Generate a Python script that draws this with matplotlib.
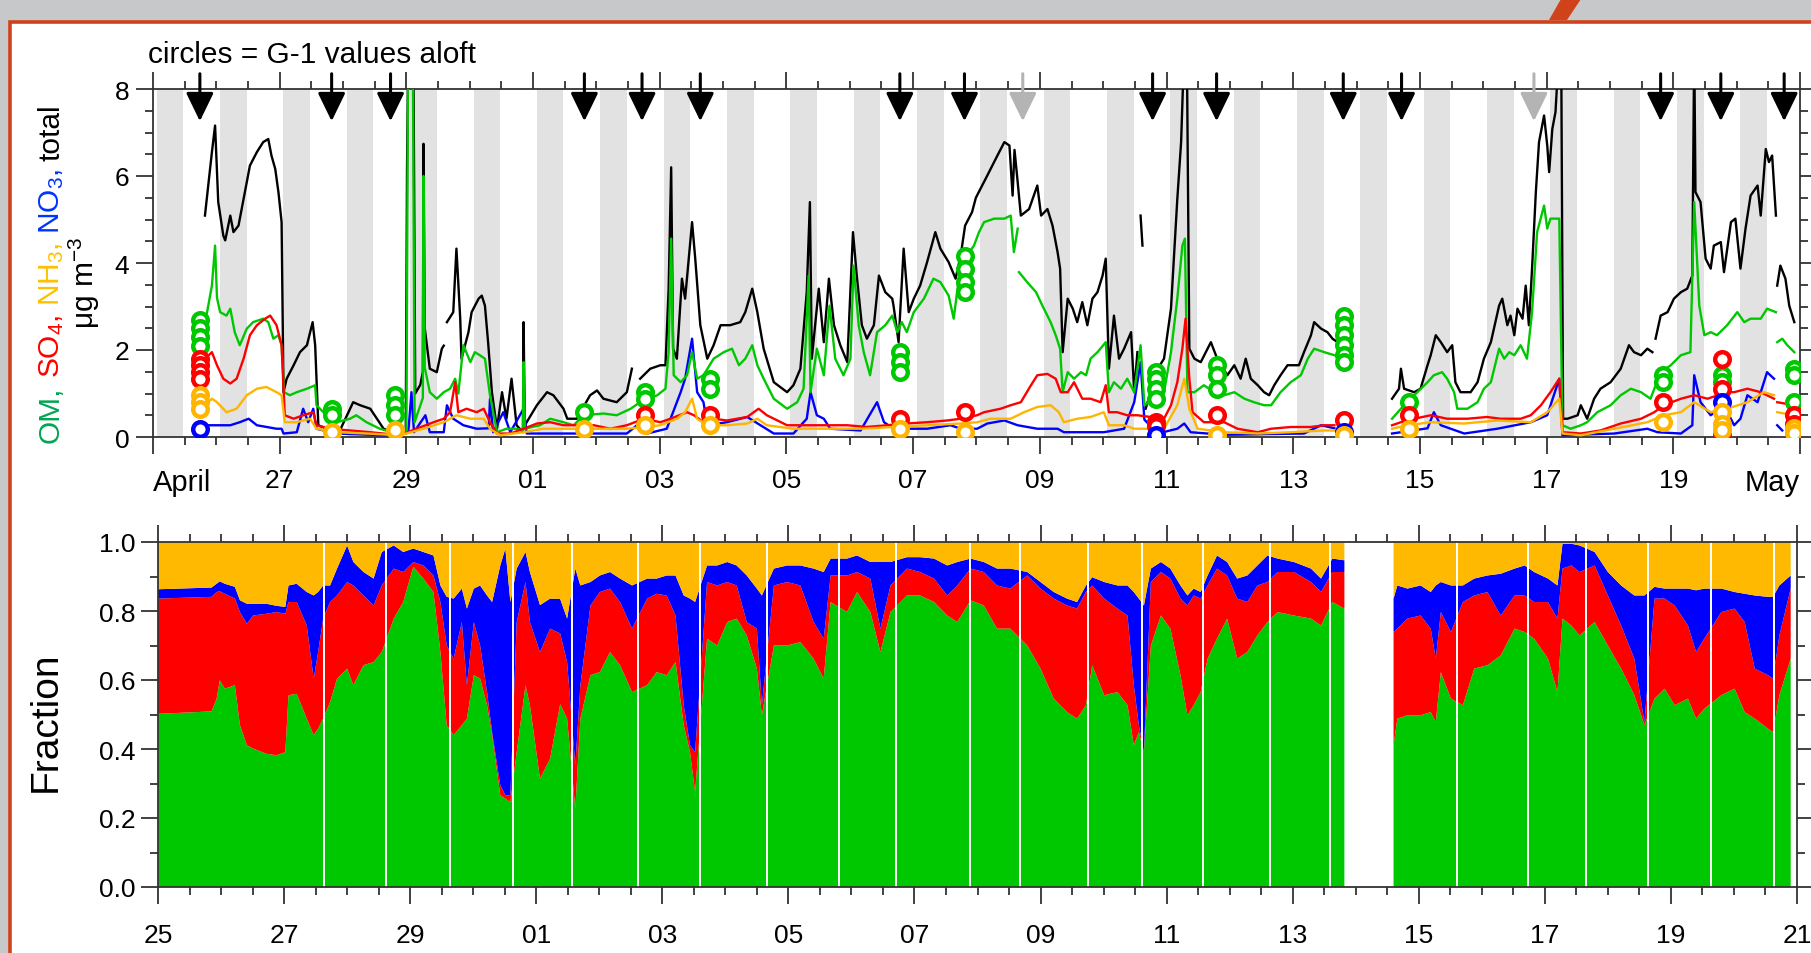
import numpy as np
import matplotlib
matplotlib.use('Agg')
import matplotlib.pyplot as plt
from matplotlib.patches import Rectangle, Polygon
from matplotlib.transforms import IdentityTransform
from matplotlib.ticker import MultipleLocator, FixedLocator

plt.rcParams['font.family'] = ['Liberation Sans', 'DejaVu Sans']
plt.rcParams['mathtext.fontset'] = 'custom'
plt.rcParams['mathtext.rm'] = 'Liberation Sans'
plt.rcParams['mathtext.it'] = 'Liberation Sans:italic'
plt.rcParams['mathtext.bf'] = 'Liberation Sans:bold'

nan = np.nan
# ---------------- data (day numbers: 25 = 25 April, 31 = 1 May, 51 = 21 May) ----------------
total_pts = [
 (25.82,5.09),(25.93,6.55),(25.98,7.16),(26.03,5.40),(26.11,4.63),(26.14,4.52),(26.22,5.09),(26.27,4.71),
 (26.35,4.86),(26.43,5.47),(26.53,6.24),(26.64,6.55),(26.74,6.78),(26.82,6.85),(26.87,6.47),(26.93,6.16),
 (26.98,5.63),(27.03,4.94),(27.06,1.03),(27.11,1.34),(27.22,1.65),(27.32,1.95),(27.43,2.11),(27.52,2.64),
 (27.56,2.11),(27.61,0.27),(27.74,0.19),(27.95,0.15),(28.16,0.80),(28.27,0.73),(28.43,0.65),(28.64,0.19),
 (28.85,0.08),(28.99,0.08),(29.01,6.16),(29.03,9.0),(29.11,9.0),(29.14,1.00),(29.22,1.20),(29.26,1.50),
 (29.27,6.74),(29.29,2.50),(29.37,1.57),(29.48,1.49),(29.56,2.03),(29.59,2.10),(29.62,nan),(29.64,2.64),
 (29.74,2.87),(29.79,4.33),(29.85,2.72),(29.87,1.80),(29.98,2.41),(30.03,2.87),(30.14,3.18),(30.19,3.25),
 (30.24,3.02),(30.29,2.18),(30.35,1.03),(30.43,0.19),(30.51,1.03),(30.58,0.42),(30.66,1.34),(30.74,0.27),
 (30.84,0.11),(30.85,2.64),(30.87,0.27),(31.06,0.73),(31.22,1.03),(31.32,0.96),(31.48,0.65),(31.54,0.42),
 (31.69,0.42),(31.90,0.96),(32.01,1.07),(32.11,0.88),(32.32,0.80),(32.48,1.03),(32.56,1.57),(32.60,nan),
 (32.69,1.34),(32.85,1.57),(33.01,1.65),(33.09,1.65),(33.14,3.41),(33.18,6.20),(33.21,2.03),(33.27,1.80),
 (33.35,3.64),(33.40,3.18),(33.51,4.94),(33.56,4.10),(33.64,2.57),(33.75,1.80),(33.85,2.11),(33.96,2.57),
 (34.11,2.57),(34.27,2.64),(34.35,2.87),(34.46,3.41),(34.54,2.87),(34.64,2.03),(34.80,1.26),(35.01,1.03),
 (35.11,1.19),(35.22,1.57),(35.32,3.33),(35.37,5.40),(35.40,1.80),(35.51,3.41),(35.59,2.18),(35.67,3.64),
 (35.75,2.57),(35.85,2.11),(35.96,1.72),(36.05,4.71),(36.11,3.71),(36.19,2.57),(36.27,2.26),(36.38,2.57),
 (36.46,3.71),(36.56,3.33),(36.67,3.18),(36.69,3.02),(36.77,2.18),(36.85,4.33),(36.93,2.87),(37.01,3.18),
 (37.11,3.48),(37.22,4.02),(37.35,4.71),(37.43,4.33),(37.56,4.02),(37.67,3.64),(37.75,4.17),(37.82,4.86),
 (37.93,5.17),(37.99,5.50),(38.17,6.01),(38.33,6.47),(38.44,6.78),(38.52,6.70),(38.57,5.55),(38.60,6.60),
 (38.65,5.86),(38.70,5.09),(38.83,5.24),(38.96,5.78),(39.02,5.09),(39.12,5.24),(39.20,4.86),(39.28,4.25),
 (39.32,3.87),(39.36,1.95),(39.44,3.18),(39.52,2.95),(39.59,2.64),(39.67,3.10),(39.75,2.57),(39.83,3.18),
 (39.91,3.33),(39.99,3.71),(40.04,4.10),(40.09,1.57),(40.17,2.79),(40.25,1.80),(40.33,2.03),(40.44,2.41),
 (40.49,1.03),(40.54,1.95),(40.57,nan),(40.59,5.09),(40.62,4.40),(40.65,nan),(40.67,0.65),(40.86,1.57),
 (40.96,1.80),(41.07,2.95),(41.17,5.47),(41.23,6.78),(41.28,9.0),(41.32,9.0),(41.36,2.03),(41.44,1.80),
 (41.54,1.72),(41.70,2.18),(41.80,1.80),(41.96,1.42),(42.07,1.65),(42.17,1.34),(42.25,1.80),(42.33,1.34),
 (42.44,1.19),(42.54,1.03),(42.62,0.96),(42.70,1.19),(42.80,1.42),(42.91,1.65),(43.02,1.65),(43.09,1.65),
 (43.17,1.95),(43.28,2.34),(43.33,2.64),(43.44,2.49),(43.54,2.41),(43.62,2.26),(43.70,2.18),(43.72,nan),
 (44.56,0.88),(44.67,1.11),(44.70,1.57),(44.75,1.11),(44.91,1.03),(45.01,1.11),(45.12,1.65),(45.17,1.88),
 (45.25,2.34),(45.33,2.18),(45.43,1.95),(45.51,2.11),(45.56,1.26),(45.64,1.03),(45.80,1.03),(45.91,1.26),
 (46.01,1.80),(46.12,2.18),(46.25,3.02),(46.30,3.18),(46.38,2.57),(46.43,2.79),(46.49,2.34),(46.54,2.95),
 (46.62,2.72),(46.67,3.48),(46.72,2.57),(46.77,3.87),(46.83,5.63),(46.88,6.78),(46.96,7.39),(47.01,6.70),
 (47.04,6.09),(47.09,7.08),(47.14,7.47),(47.20,9.0),(47.23,9.0),(47.26,0.42),(47.33,0.42),(47.49,0.50),
 (47.54,0.73),(47.64,0.42),(47.75,0.88),(47.85,1.11),(48.01,1.26),(48.17,1.57),(48.30,2.11),(48.38,1.95),
 (48.49,1.88),(48.59,2.03),(48.67,1.95),(48.70,nan),(48.72,2.26),(48.80,2.79),(48.91,2.87),(49.01,3.18),
 (49.12,3.33),(49.22,3.41),(49.30,3.71),(49.33,9.0),(49.35,5.63),(49.43,5.40),(49.51,4.10),(49.59,3.87),
 (49.64,4.40),(49.75,4.48),(49.80,3.79),(49.91,4.94),(49.98,5.02),(50.06,3.87),(50.14,4.79),(50.22,5.55),
 (50.33,5.78),(50.38,5.09),(50.46,6.62),(50.51,6.32),(50.56,6.47),(50.62,5.09),(50.63,nan),(50.64,3.48),
 (50.69,3.94),(50.77,3.64),(50.83,3.02),(50.91,2.64)]

om_pts = [
 (25.82,2.60),(25.93,3.48),(25.98,4.40),(26.01,3.20),(26.06,2.87),(26.16,2.79),(26.22,2.95),(26.29,2.41),
 (26.37,2.11),(26.48,2.49),(26.58,2.64),(26.74,2.72),(26.82,2.64),(26.90,2.26),(26.98,2.34),(27.03,2.11),
 (27.07,1.03),(27.16,0.96),(27.27,1.03),(27.43,1.11),(27.56,1.19),(27.58,0.73),(27.74,0.50),(27.90,0.34),
 (28.11,0.42),(28.21,0.50),(28.37,0.34),(28.58,0.19),(28.85,0.08),(29.00,0.08),(29.03,9.5),(29.10,9.5),
 (29.13,0.34),(29.22,0.73),(29.26,0.90),(29.27,6.00),(29.29,1.60),(29.37,1.03),(29.48,0.88),(29.59,1.03),
 (29.69,1.11),(29.77,1.34),(29.82,1.00),(29.90,2.11),(30.01,1.72),(30.08,1.95),(30.16,1.88),(30.24,1.80),
 (30.32,0.96),(30.43,0.11),(30.58,0.19),(30.74,0.19),(30.84,0.15),(30.85,1.72),(30.87,0.19),(31.11,0.27),
 (31.27,0.42),(31.48,0.34),(31.64,0.27),(31.80,0.50),(32.11,0.54),(32.32,0.50),(32.54,0.65),(32.69,0.80),
 (32.96,0.96),(33.09,1.11),(33.14,1.95),(33.18,4.56),(33.22,1.42),(33.33,1.26),(33.43,1.42),(33.51,1.95),
 (33.59,1.34),(33.69,1.42),(33.85,1.80),(34.01,1.95),(34.14,2.03),(34.25,1.65),(34.35,1.80),(34.46,2.11),
 (34.54,1.65),(34.64,1.34),(34.80,0.88),(35.01,0.65),(35.17,0.80),(35.27,1.11),(35.35,3.71),(35.38,1.03),
 (35.48,2.03),(35.59,1.42),(35.68,3.02),(35.77,1.80),(35.90,1.42),(36.01,1.80),(36.06,3.94),(36.14,2.57),
 (36.22,1.95),(36.32,1.42),(36.43,2.41),(36.56,2.57),(36.67,2.79),(36.75,2.41),(36.82,2.64),(36.90,2.41),
 (37.01,2.87),(37.17,3.18),(37.32,3.64),(37.43,3.56),(37.56,3.25),(37.64,2.72),(37.72,3.64),(37.85,4.17),
 (37.96,4.40),(38.04,4.71),(38.12,4.94),(38.28,5.02),(38.44,5.02),(38.54,5.09),(38.59,4.25),(38.65,4.79),
 (38.66,nan),(38.67,3.79),(38.80,3.56),(38.94,3.33),(39.04,3.02),(39.17,2.64),(39.25,2.34),(39.32,2.03),
 (39.36,1.03),(39.44,1.49),(39.54,1.34),(39.65,1.49),(39.73,1.42),(39.80,1.80),(39.91,1.95),(40.04,2.18),
 (40.09,1.03),(40.17,1.26),(40.28,1.11),(40.38,1.34),(40.49,1.03),(40.59,2.11),(40.65,0.73),(40.96,1.03),
 (41.07,1.95),(41.17,3.18),(41.25,4.40),(41.29,4.56),(41.33,1.03),(41.44,1.03),(41.59,1.19),(41.75,1.03),
 (41.91,0.96),(42.07,1.03),(42.23,0.88),(42.38,0.80),(42.54,0.73),(42.65,0.73),(42.80,1.03),(42.96,1.26),
 (43.12,1.42),(43.23,1.80),(43.33,2.03),(43.49,1.95),(43.65,1.88),(43.72,nan),
 (44.56,0.42),(44.70,0.65),(44.85,0.88),(44.96,1.03),(45.12,1.26),(45.22,1.42),(45.35,1.49),(45.43,1.34),
 (45.54,1.03),(45.59,0.65),(45.75,0.65),(45.91,0.80),(46.01,1.11),(46.12,1.26),(46.25,2.03),(46.33,1.80),
 (46.41,1.95),(46.49,1.88),(46.59,2.11),(46.69,1.80),(46.77,2.87),(46.85,4.71),(46.96,5.32),(47.01,4.79),
 (47.06,5.02),(47.20,5.02),(47.25,0.27),(47.38,0.19),(47.54,0.27),(47.64,0.34),(47.80,0.57),(48.01,0.73),
 (48.17,0.96),(48.33,1.11),(48.49,1.03),(48.64,0.88),(48.80,1.49),(48.96,1.65),(49.12,1.88),(49.27,1.95),
 (49.33,5.40),(49.41,3.02),(49.49,2.34),(49.59,2.41),(49.69,2.34),(49.85,2.57),(50.01,2.87),(50.12,2.64),
 (50.22,2.72),(50.38,2.72),(50.48,2.95),(50.62,2.87),(50.63,nan),(50.64,2.18),(50.72,2.26),(50.80,2.11),
 (50.91,1.95)]

so4_pts = [
 (25.82,1.80),(25.93,1.95),(26.01,1.65),(26.11,1.34),(26.22,1.23),(26.32,1.34),(26.43,1.80),(26.53,2.34),
 (26.64,2.57),(26.77,2.72),(26.85,2.79),(26.95,2.57),(27.03,2.11),(27.08,0.50),(27.22,0.42),(27.37,0.50),
 (27.53,0.57),(27.58,0.27),(27.79,0.19),(28.11,0.15),(28.43,0.11),(28.90,0.04),(29.16,0.19),(29.43,0.34),
 (29.59,0.42),(29.69,0.57),(29.77,1.26),(29.82,0.57),(29.95,0.65),(30.11,0.57),(30.22,0.65),(30.32,0.34),
 (30.43,0.08),(30.64,0.08),(30.85,0.19),(31.06,0.31),(31.27,0.34),(31.48,0.27),(31.75,0.27),(31.96,0.27),
 (32.22,0.19),(32.48,0.27),(32.75,0.42),(33.01,0.34),(33.17,0.42),(33.43,0.57),(33.54,0.50),(33.69,0.34),
 (33.85,0.42),(34.06,0.38),(34.38,0.46),(34.56,0.65),(34.69,0.50),(35.01,0.27),(35.32,0.27),(35.64,0.27),
 (35.96,0.27),(36.27,0.23),(36.59,0.27),(36.90,0.31),(37.22,0.34),(37.54,0.38),(37.75,0.42),(38.01,0.50),
 (38.12,0.57),(38.38,0.65),(38.54,0.73),(38.70,0.80),(38.86,1.19),(38.96,1.42),(39.12,1.45),(39.25,1.34),
 (39.33,1.03),(39.44,1.03),(39.54,1.26),(39.67,0.88),(39.80,0.88),(39.96,0.80),(40.04,1.19),(40.09,0.57),
 (40.22,0.57),(40.38,0.50),(40.54,0.50),(40.96,0.42),(41.07,0.73),(41.17,1.26),(41.25,2.03),(41.30,2.72),
 (41.36,1.34),(41.41,0.57),(41.59,0.34),(41.91,0.34),(42.12,0.19),(42.44,0.11),(42.65,0.19),(42.96,0.23),
 (43.28,0.23),(43.49,0.27),(43.65,0.27),(43.72,nan),
 (44.56,0.27),(44.70,0.34),(44.91,0.42),(45.17,0.50),(45.43,0.42),(45.75,0.42),(46.06,0.46),(46.27,0.42),
 (46.59,0.42),(46.75,0.50),(46.91,0.73),(47.06,1.03),(47.20,1.34),(47.25,0.11),(47.54,0.08),(47.85,0.15),
 (48.17,0.31),(48.49,0.42),(48.70,0.57),(48.85,0.73),(49.12,0.88),(49.33,0.96),(49.54,0.88),(49.85,1.03),
 (49.96,1.03),(50.17,1.11),(50.38,1.03),(50.59,0.88),(50.63,nan),(50.64,0.80),(50.91,0.73)]

nh4_pts = [
 (25.82,0.73),(25.93,0.88),(26.01,0.80),(26.16,0.57),(26.32,0.65),(26.48,0.96),(26.64,1.11),(26.79,1.15),
 (26.95,1.03),(27.03,0.96),(27.08,0.34),(27.27,0.34),(27.48,0.42),(27.58,0.19),(27.90,0.11),(28.37,0.08),
 (28.90,0.04),(29.27,0.19),(29.59,0.34),(29.79,0.50),(30.01,0.42),(30.22,0.42),(30.32,0.19),(30.48,0.04),
 (30.85,0.11),(31.16,0.19),(31.48,0.19),(31.96,0.19),(32.48,0.19),(33.01,0.27),(33.27,0.42),(33.40,0.57),
 (33.51,0.88),(33.59,0.42),(33.75,0.27),(34.06,0.27),(34.38,0.31),(34.54,0.42),(34.69,0.27),(35.11,0.19),
 (35.64,0.19),(36.17,0.19),(36.69,0.23),(37.22,0.27),(37.75,0.31),(38.01,0.34),(38.22,0.42),(38.54,0.42),
 (38.75,0.57),(38.96,0.69),(39.17,0.73),(39.30,0.57),(39.38,0.34),(39.59,0.42),(39.80,0.46),(40.01,0.57),
 (40.09,0.27),(40.33,0.27),(40.49,0.19),(40.96,0.19),(41.17,0.73),(41.28,1.34),(41.36,0.65),(41.49,0.19),
 (41.91,0.11),(42.44,0.08),(42.96,0.11),(43.49,0.15),(43.65,0.15),(43.72,nan),
 (44.56,0.19),(44.80,0.27),(45.17,0.34),(45.70,0.31),(46.22,0.38),(46.75,0.34),(47.01,0.57),(47.20,0.88),
 (47.25,0.08),(47.54,0.04),(48.07,0.19),(48.59,0.34),(48.85,0.50),(49.12,0.57),(49.33,0.80),(49.59,0.57),
 (49.85,0.65),(50.17,0.80),(50.43,1.03),(50.59,0.96),(50.63,nan),(50.64,0.57),(50.91,0.50)]

no3_pts = [
 (25.82,0.27),(26.22,0.27),(26.37,0.34),(26.51,0.42),(26.64,0.27),(26.95,0.19),(27.03,0.19),(27.06,0.08),
 (27.27,0.11),(27.37,0.65),(27.45,0.34),(27.53,0.65),(27.58,0.19),(27.90,0.08),(28.64,0.04),(29.03,0.10),
 (29.08,1.03),(29.12,0.11),(29.30,0.50),(29.37,0.11),(29.59,0.11),(29.64,0.73),(29.74,0.42),(29.90,0.27),
 (30.11,0.19),(30.30,0.20),(30.32,0.88),(30.37,0.11),(30.53,0.57),(30.64,0.11),(30.85,0.65),(30.90,0.08),
 (31.27,0.08),(32.48,0.08),(32.64,0.27),(32.80,0.08),(33.11,0.19),(33.33,1.03),(33.40,1.34),(33.51,2.26),
 (33.59,1.03),(33.69,0.80),(33.75,0.27),(34.06,0.34),(34.38,0.46),(34.59,0.27),(34.80,0.08),(35.11,0.08),
 (35.32,0.42),(35.38,1.03),(35.48,0.50),(35.59,0.42),(35.69,0.19),(36.17,0.15),(36.43,0.80),(36.54,0.34),
 (36.69,0.19),(37.22,0.19),(37.59,0.27),(37.75,0.19),(38.01,0.19),(38.17,0.31),(38.44,0.38),(38.65,0.27),
 (38.96,0.19),(39.28,0.19),(39.38,0.11),(40.01,0.11),(40.33,0.19),(40.49,0.80),(40.59,1.72),(40.65,0.40),
 (40.86,0.08),(41.17,0.19),(41.28,0.31),(41.38,0.11),(41.91,0.05),(43.17,0.08),(43.44,0.27),(43.65,0.20),
 (43.72,nan),
 (44.56,0.08),(45.12,0.20),(45.22,0.57),(45.33,0.27),(45.70,0.08),(46.22,0.19),(46.75,0.34),(47.01,0.50),
 (47.20,1.34),(47.25,0.04),(48.07,0.08),(48.59,0.19),(48.75,0.11),(49.12,0.08),(49.30,0.27),(49.33,1.42),
 (49.43,0.80),(49.59,0.50),(49.80,0.73),(49.96,0.27),(50.06,0.42),(50.17,0.96),(50.33,0.80),(50.48,1.49),
 (50.59,1.34),(50.63,nan),(50.64,0.27),(50.72,0.15)]

# G-1 aircraft values aloft (circles)
om_c_t = [25.74,25.74,25.74,25.74,27.82,27.82,28.82,28.82,28.82,31.80,32.77,32.77,33.80,33.80,36.80,36.80,36.80,
          37.82,37.82,37.82,37.82,40.83,40.83,40.83,40.83,41.80,41.80,41.80,43.80,43.80,43.80,43.80,43.80,43.80,
          44.83,48.83,48.83,49.77,49.77,50.91,50.91,50.91]
om_c_v = [2.70,2.50,2.30,2.10,0.65,0.50,0.96,0.73,0.50,0.57,1.03,0.88,1.34,1.11,1.95,1.72,1.49,
          4.17,3.87,3.56,3.33,1.49,1.34,1.11,0.88,1.65,1.42,1.11,2.79,2.57,2.34,2.11,1.88,1.72,
          0.80,1.42,1.26,1.42,1.26,1.57,1.42,0.80]
so4_c_t = [25.74,25.74,25.74,25.74,32.77,33.80,36.80,37.82,40.83,40.83,41.80,43.80,44.83,48.83,
           49.77,49.77,49.77,50.91,50.91,50.91]
so4_c_v = [1.80,1.65,1.49,1.34,0.50,0.50,0.42,0.57,0.34,0.25,0.50,0.38,0.50,0.80,
           1.80,1.11,0.05,0.50,0.30,0.05]
nh4_c_t = [25.74,25.74,25.74,27.82,28.82,31.80,32.77,33.80,36.80,37.82,41.80,43.80,44.83,48.83,
           49.77,49.77,49.77,50.91,50.91]
nh4_c_v = [0.96,0.80,0.65,0.11,0.15,0.19,0.27,0.27,0.19,0.11,0.05,0.05,0.19,0.34,
           0.57,0.30,0.15,0.20,0.10]
no3_c_t = [25.74,40.83,43.80,49.77]
no3_c_v = [0.19,0.05,0.12,0.80]

# flight arrows
arrow_black_t = [25.74,27.82,28.75,31.81,32.72,33.64,36.79,37.81,40.78,41.79,43.79,44.71,48.80,49.75,50.75]
arrow_gray_t = [38.73,46.80]

# fractions: cumulative tops (OM, OM+SO4, OM+SO4+NO3); NH4 fills to 1
frac_pts = [
 (25.00,0.502,0.836,0.863),(25.85,0.509,0.841,0.868),(25.93,0.546,0.855,0.879),(25.98,0.599,0.857,0.886),
 (26.06,0.575,0.850,0.879),(26.22,0.585,0.836,0.870),(26.30,0.469,0.797,0.831),(26.41,0.411,0.763,0.821),
 (26.51,0.401,0.787,0.821),(26.72,0.386,0.792,0.821),(26.88,0.382,0.797,0.815),(27.02,0.391,0.792,0.812),
 (27.07,0.556,0.826,0.874),(27.20,0.560,0.826,0.879),(27.36,0.488,0.758,0.855),(27.47,0.440,0.604,0.845),
 (27.54,0.459,0.681,0.855),(27.62,0.488,0.778,0.874),(27.73,0.536,0.826,0.874),(27.84,0.604,0.845,0.923),
 (28.00,0.633,0.884,0.990),(28.10,0.585,0.874,0.942),(28.26,0.643,0.845,0.913),(28.42,0.652,0.816,0.894),
 (28.55,0.681,0.874,0.971),(28.74,0.778,0.923,0.990),(28.89,0.826,0.913,0.971),(29.05,0.928,0.942,0.981),
 (29.21,0.894,0.932,0.971),(29.37,0.855,0.903,0.961),(29.48,0.681,0.826,0.874),(29.58,0.469,0.700,0.841),
 (29.69,0.440,0.662,0.836),(29.82,0.469,0.768,0.865),(29.90,0.488,0.585,0.807),(30.01,0.614,0.768,0.865),
 (30.11,0.604,0.700,0.874),(30.22,0.527,0.565,0.845),(30.30,0.440,0.449,0.826),(30.43,0.266,0.295,0.932),
 (30.51,0.256,0.266,0.981),(30.59,0.246,0.266,0.826),(30.69,0.391,0.768,0.923),(30.83,0.585,0.884,0.971),
 (30.90,0.527,0.768,0.913),(31.06,0.314,0.681,0.817),(31.22,0.372,0.749,0.836),(31.38,0.530,0.735,0.835),
 (31.49,0.488,0.652,0.778),(31.62,0.227,0.353,0.923),(31.70,0.488,0.585,0.874),(31.86,0.614,0.816,0.884),
 (32.01,0.623,0.855,0.903),(32.17,0.681,0.865,0.913),(32.33,0.643,0.826,0.894),(32.52,0.565,0.749,0.874),
 (32.76,0.585,0.836,0.894),(32.91,0.623,0.850,0.894),(33.07,0.614,0.845,0.903),(33.21,0.652,0.787,0.903),
 (33.34,0.469,0.527,0.845),(33.44,0.391,0.411,0.836),(33.52,0.275,0.391,0.826),(33.71,0.720,0.884,0.932),
 (33.87,0.700,0.874,0.932),(34.03,0.768,0.884,0.942),(34.18,0.778,0.874,0.932),(34.34,0.729,0.768,0.903),
 (34.50,0.633,0.749,0.865),(34.58,0.498,0.527,0.845),(34.77,0.700,0.874,0.923),(34.98,0.700,0.884,0.932),
 (35.19,0.710,0.874,0.932),(35.40,0.662,0.768,0.923),(35.56,0.604,0.720,0.913),(35.67,0.826,0.903,0.952),
 (35.93,0.797,0.903,0.952),(36.09,0.855,0.913,0.961),(36.30,0.797,0.894,0.942),(36.46,0.681,0.749,0.942),
 (36.62,0.797,0.874,0.942),(36.88,0.845,0.923,0.956),(37.09,0.845,0.913,0.956),(37.31,0.826,0.894,0.952),
 (37.52,0.787,0.845,0.932),(37.68,0.768,0.874,0.942),(37.89,0.831,0.923,0.952),(38.10,0.816,0.913,0.942),
 (38.31,0.749,0.874,0.923),(38.52,0.749,0.865,0.923),(38.79,0.700,0.903,0.913),(39.00,0.633,0.865,0.884),
 (39.21,0.546,0.836,0.855),(39.42,0.507,0.816,0.836),(39.58,0.488,0.807,0.826),(39.72,0.527,0.855,0.874),
 (39.82,0.643,0.874,0.898),(40.01,0.556,0.836,0.884),(40.22,0.565,0.807,0.874),(40.38,0.527,0.787,0.874),
 (40.48,0.411,0.585,0.855),(40.56,0.449,0.469,0.836),(40.64,0.391,0.391,0.816),(40.75,0.700,0.884,0.923),
 (40.91,0.787,0.913,0.942),(41.06,0.749,0.894,0.923),(41.22,0.614,0.836,0.874),(41.33,0.498,0.816,0.845),
 (41.43,0.527,0.845,0.865),(41.54,0.565,0.836,0.855),(41.65,0.662,0.874,0.903),(41.80,0.720,0.923,0.961),
 (41.96,0.778,0.903,0.942),(42.12,0.662,0.836,0.894),(42.28,0.681,0.826,0.903),(42.44,0.729,0.874,0.932),
 (42.60,0.768,0.884,0.961),(42.76,0.797,0.913,0.952),(43.02,0.787,0.913,0.942),(43.29,0.778,0.884,0.923),
 (43.45,0.758,0.855,0.894),(43.63,0.826,0.913,0.952),(43.82,0.807,0.913,0.947),(43.83,nan,nan,nan),
 (44.60,0.411,0.739,0.836),(44.66,0.488,0.749,0.874),(44.82,0.498,0.778,0.865),(45.03,0.498,0.787,0.874),
 (45.19,0.507,0.749,0.855),(45.27,0.478,0.662,0.874),(45.35,0.623,0.797,0.884),(45.51,0.546,0.739,0.874),
 (45.70,0.527,0.826,0.874),(45.88,0.633,0.845,0.894),(46.09,0.643,0.855,0.903),(46.30,0.671,0.787,0.908),
 (46.52,0.749,0.845,0.923),(46.68,0.739,0.845,0.932),(46.83,0.720,0.826,0.913),(47.05,0.662,0.826,0.894),
 (47.20,0.565,0.778,0.874),(47.28,0.778,0.923,0.995),(47.42,0.758,0.932,0.995),(47.55,0.729,0.913,0.990),
 (47.79,0.768,0.932,0.971),(48.00,0.700,0.845,0.913),(48.21,0.633,0.758,0.874),(48.42,0.556,0.662,0.845),
 (48.58,0.469,0.478,0.845),(48.74,0.546,0.836,0.870),(48.90,0.575,0.836,0.865),(49.06,0.527,0.816,0.865),
 (49.27,0.546,0.758,0.865),(49.40,0.488,0.681,0.860),(49.53,0.517,0.720,0.865),(49.80,0.556,0.797,0.865),
 (50.01,0.575,0.807,0.855),(50.17,0.507,0.768,0.850),(50.33,0.488,0.633,0.845),(50.54,0.459,0.614,0.841),
 (50.62,0.449,0.604,0.841),(50.72,0.556,0.729,0.874),(50.90,0.662,0.865,0.903)]
frac_gap_t = [27.63,28.62,29.63,30.63,31.57,32.62,33.60,34.66,35.80,36.70,37.88,38.67,39.76,40.61,
              41.58,42.64,43.59,45.61,46.73,47.66,48.64,49.64,50.64]

night_days = list(range(25, 51))
top_xticks = [25,27,29,31,33,35,37,39,41,43,45,47,49,51]
top_xlabels = ['April','27','29','01','03','05','07','09','11','13','15','17','19','May']
bot_xlabels = ['25','27','29','01','03','05','07','09','11','13','15','17','19','21']

# ---------------- figure ----------------
W, H = 1811, 954
fig = plt.figure(figsize=(W/100, H/100), dpi=100)
fig.patch.set_facecolor('#c7c8ca')

def px_rect(x0, y0, x1, y1):
    return [x0/W, 1 - y1/H, (x1-x0)/W, (y1-y0)/H]

fig.add_artist(Rectangle((10/W, -0.05), 1.2, (H-23)/H + 0.05, transform=fig.transFigure,
                         facecolor='white', edgecolor='#d0421a', lw=2.6, zorder=-5))
mark = [(1561, 0), (1581, 0), (1567, 21), (1549, 21)]
fig.add_artist(Polygon([(x/W, 1 - y/H) for x, y in mark], closed=True, transform=fig.transFigure,
                       facecolor='#d0421a', edgecolor='none', zorder=-4))

GREEN, RED, ORANGE, BLUE = '#00c800', '#ff0000', '#ffb400', '#0000ff'
SPINE = '#333333'

def unzip(pts):
    a = np.array(pts, dtype=float)
    return a[:, 0], a[:, 1]

# ---- top panel ----
ax1 = fig.add_axes(px_rect(153, 90, 1800, 438))
ax1.set_xlim(25, 51)
ax1.set_ylim(0, 8)
for d in night_days:
    ax1.axvspan(d + 0.06, d + 0.48, color='#e2e2e2', lw=0, zorder=0)

t, v = unzip(total_pts); ax1.plot(t, v, color='black', lw=1.7, zorder=3)
t, v = unzip(om_pts);    ax1.plot(t, v, color=GREEN, lw=1.7, zorder=3.2)
t, v = unzip(so4_pts);   ax1.plot(t, v, color=RED, lw=1.7, zorder=3.3)
t, v = unzip(nh4_pts);   ax1.plot(t, v, color=ORANGE, lw=1.7, zorder=3.4)
t, v = unzip(no3_pts);   ax1.plot(t, v, color=BLUE, lw=1.7, zorder=3.1)

for ct, cv, col in [(om_c_t, om_c_v, GREEN), (so4_c_t, so4_c_v, RED),
                    (no3_c_t, no3_c_v, BLUE), (nh4_c_t, nh4_c_v, ORANGE)]:
    ax1.plot(ct, cv, 'o', ms=10.5, mfc='white', mec=col, mew=3.2, ls='none', zorder=5)

for tl, col in [(arrow_black_t, 'black'), (arrow_gray_t, '#b4b4b4')]:
    for ta in tl:
        ax1.annotate('', xy=(ta, 7.26), xytext=(ta, 8.35),
                     arrowprops=dict(arrowstyle='-|>,head_length=1.75,head_width=0.85',
                                     mutation_scale=10, color=col, lw=2.2, shrinkA=0, shrinkB=0),
                     annotation_clip=False, zorder=6)

ax1.xaxis.set_major_locator(FixedLocator(top_xticks))
ax1.xaxis.set_minor_locator(MultipleLocator(0.5))
ax1.set_xticklabels(top_xlabels)
ax1.yaxis.set_major_locator(MultipleLocator(2))
ax1.yaxis.set_minor_locator(MultipleLocator(0.5))
ax1.tick_params(which='both', direction='out', top=True, right=True, colors=SPINE,
                labelcolor='black', width=1.3)
ax1.tick_params(which='major', length=12, labelsize=19)
ax1.tick_params(which='minor', length=5.5)
ax1.tick_params(axis='x', pad=10)
ax1.tick_params(axis='y', pad=5)
lbls = ax1.get_xticklabels()
lbls[0].set_ha('left'); lbls[0].set_fontsize(21)
lbls[-1].set_ha('right'); lbls[-1].set_fontsize(21)
for s in ax1.spines.values():
    s.set_color(SPINE); s.set_linewidth(1.3)

# ---- bottom panel ----
ax2 = fig.add_axes(px_rect(158, 543, 1797, 888))
ax2.set_xlim(25, 51)
ax2.set_ylim(0, 1.0)
fa = np.array(frac_pts, dtype=float)
ft, g_top, r_top, b_top = fa[:, 0], fa[:, 1], fa[:, 2], fa[:, 3]
ax2.fill_between(ft, 0, g_top, color='#00c800', lw=0, zorder=1)
ax2.fill_between(ft, g_top, r_top, color='#ff0000', lw=0, zorder=1)
ax2.fill_between(ft, r_top, b_top, color='#0000ff', lw=0, zorder=1)
ax2.fill_between(ft, b_top, 1.0, color='#ffb900', lw=0, zorder=1)
for gt in frac_gap_t:
    ax2.axvline(gt, color='white', lw=1.4, zorder=2)

ax2.xaxis.set_major_locator(FixedLocator(top_xticks))
ax2.xaxis.set_minor_locator(MultipleLocator(0.5))
ax2.set_xticklabels(bot_xlabels)
ax2.yaxis.set_major_locator(MultipleLocator(0.2))
ax2.yaxis.set_minor_locator(MultipleLocator(0.1))
ax2.yaxis.set_major_formatter(matplotlib.ticker.FormatStrFormatter('%.1f'))
ax2.tick_params(which='both', direction='out', top=True, right=True, colors=SPINE,
                labelcolor='black', width=1.3)
ax2.tick_params(which='major', length=12, labelsize=19)
ax2.tick_params(which='minor', length=5.5)
ax2.tick_params(axis='x', pad=14)
ax2.tick_params(axis='y', pad=4)
for s in ax2.spines.values():
    s.set_color(SPINE); s.set_linewidth(1.3)
    s.set_zorder(3)

# ---- texts ----
fig.text(148/W, 1 - 55/H, 'circles = G-1 values aloft', fontsize=21.5, ha='left', va='center')
fig.text(46/W, 1 - 722/H, 'Fraction', fontsize=28, rotation=90, ha='center', va='center')

fig.canvas.draw()
renderer = fig.canvas.get_renderer()
pieces = [('OM,', '#00a651'), ('SO$_4$,', '#ff0000'), ('NH$_3$,', '#ffc000'),
          ('NO$_3$,', '#0033ff'), ('total', 'black')]
fs = 21.5
items = []
for s, c in pieces:
    tx = fig.text(0, 0, s, fontsize=fs, color=c, rotation=90, rotation_mode='anchor',
                  ha='left', va='baseline', transform=IdentityTransform())
    items.append(tx)
lens = [tx.get_window_extent(renderer).height for tx in items]
space = fs * 100 / 72 * 0.28
total_len = sum(lens) + space * (len(items) - 1)
y = (H - 273.5) - total_len / 2
for tx, L in zip(items, lens):
    tx.set_position((59, y))
    y += L + space
fig.text(94, H - 283, 'μg m$^{-3}$', fontsize=fs, rotation=90, rotation_mode='anchor',
         ha='center', va='baseline', transform=IdentityTransform())

fig.savefig('out.png', dpi=100, facecolor=fig.get_facecolor())
